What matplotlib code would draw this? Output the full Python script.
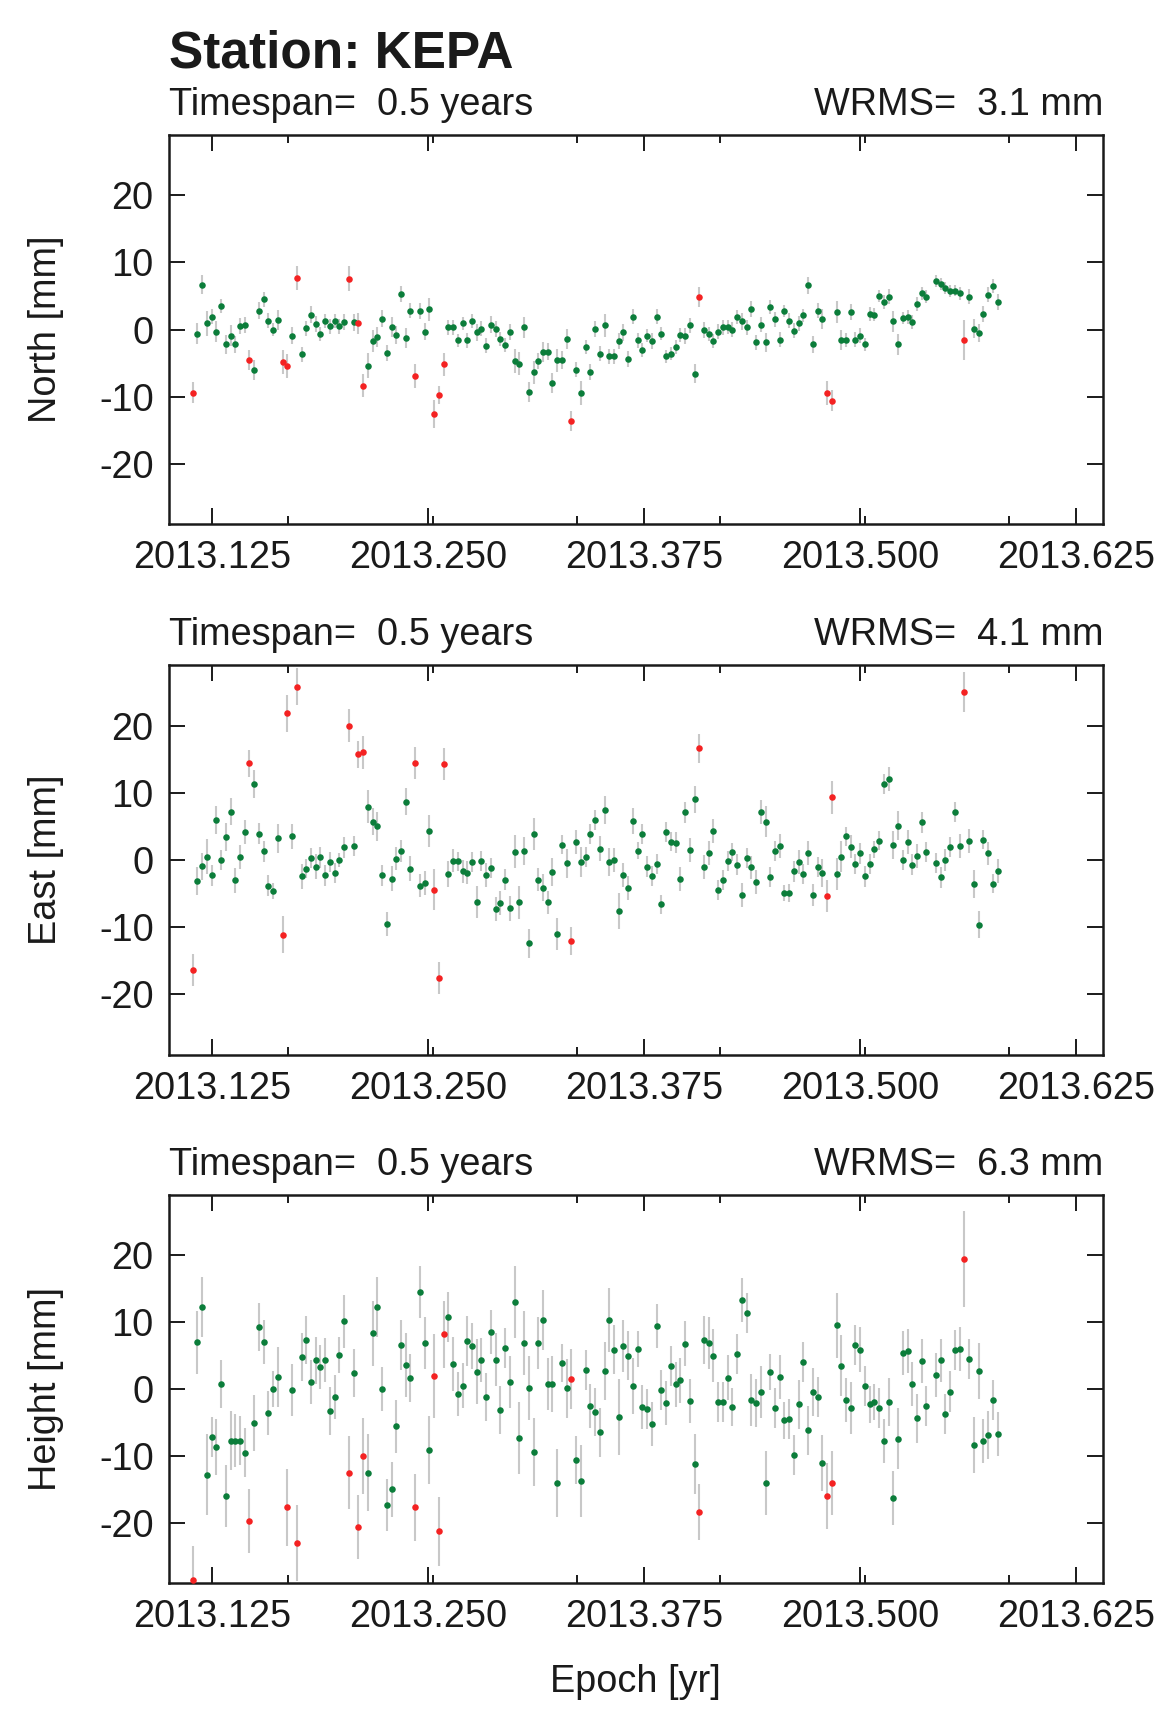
import numpy as np
import matplotlib
matplotlib.use('Agg')
import matplotlib.pyplot as plt
from matplotlib.ticker import FixedLocator, NullFormatter

plt.rcParams['font.family'] = ['Liberation Sans', 'DejaVu Sans']
plt.rcParams['axes.unicode_minus'] = False

# ---------------- data ----------------
station = 'KEPA'
year = 2013
day_of_year = [
    42, 43, 44, 45, 46, 47, 48, 49, 50, 51,
    52, 53, 54, 55, 56, 57, 58, 59, 60, 61,
    62, 63, 64, 65, 66, 67, 68, 69, 70, 71,
    72, 73, 74, 75, 76, 77, 78, 79, 80, 81,
    82, 83, 84, 85, 86, 87, 88, 89, 90, 91,
    92, 93, 94, 95, 96, 97, 98, 99, 100, 101,
    102, 103, 104, 105, 106, 107, 108, 109, 110, 111,
    112, 113, 114, 115, 116, 117, 118, 119, 120, 121,
    122, 123, 124, 125, 126, 127, 128, 129, 130, 131,
    132, 133, 134, 135, 136, 137, 138, 139, 140, 141,
    142, 143, 144, 145, 146, 147, 148, 149, 150, 151,
    152, 153, 154, 155, 156, 157, 158, 159, 160, 161,
    162, 163, 164, 165, 166, 167, 168, 169, 170, 171,
    172, 173, 174, 175, 176, 177, 178, 179, 180, 181,
    182, 183, 184, 185, 186, 187, 188, 189, 190, 191,
    192, 193, 194, 195, 196, 197, 199, 200, 201,
    202, 203, 204, 205, 206, 207, 208, 209, 210, 211,
    212,
]

outlier_days = [42, 54, 61, 62, 64, 75, 77, 78, 89, 93, 94, 95, 122, 149, 176, 177, 205]

north = [
    -9.4, -0.6, 6.7, 0.9, 1.9, -0.3, 3.5, -2.2, -0.9, -2.2,
    0.5, 0.7, -4.6, -6.0, 2.8, 4.5, 1.3, 0.0, 1.4, -4.9,
    -5.4, -0.9, 7.7, -3.7, 0.2, 2.2, 0.8, -0.7, 1.3, 0.5,
    1.3, 0.5, 1.1, 7.6, 1.1, 0.9, -8.4, -5.4, -1.7, -1.1,
    1.6, -3.5, 0.4, -0.8, 5.3, -1.3, 2.8, -6.9, 2.8, -0.3,
    3.0, -12.6, -9.7, -5.2, 0.3, 0.3, -1.6, 0.9, -1.6, 1.3,
    -0.4, 0.1, -2.4, 0.7, 0.1, -1.4, -2.3, -0.4, -4.7, -5.1,
    0.3, -9.3, -6.4, -4.7, -3.3, -3.3, -8.0, -4.6, -4.6, -1.4,
    -13.7, -6.0, -9.5, -2.6, -6.4, 0.1, -3.6, 0.6, -4.0, -4.0,
    -1.7, -0.4, -4.4, 1.9, -1.6, -3.0, -0.9, -1.7, 1.9, -0.6,
    -4.0, -3.6, -2.6, -0.8, -1.0, 0.6, -6.6, 4.8, -0.1, -0.7,
    -1.7, -0.3, 0.3, 0.4, 0.0, 1.8, 1.2, 0.3, 3.0, -1.9,
    0.7, -1.9, 3.3, 1.5, -1.5, 2.7, 1.3, -0.2, 0.9, 2.1,
    6.6, -2.2, 2.8, 1.6, -9.5, -10.6, 2.6, -1.6, -1.6, 2.6,
    -1.5, -0.9, -2.2, 2.3, 2.2, 5.0, 4.1, 4.9, 1.2, -2.2,
    1.7, 1.8, 1.1, 3.8, 5.4, 4.9, 7.2, 6.8, 6.2,
    5.8, 5.8, 5.4, -1.6, 4.9, 0.1, -0.5, 2.3, 5.2, 6.5,
    4.1,
]
north_sigma = [
    1.5, 1.5, 1.45, 1.8, 1.1, 1.5, 1.1, 1.45, 1.5, 1.25,
    1.15, 1.2, 1.5, 1.5, 1.25, 1.15, 1.1, 1.0, 1.45, 1.8,
    1.8, 1.2, 1.8, 1.15, 1.1, 1.25, 1.15, 1.0, 1.05, 1.1,
    1.05, 1.1, 1.2, 1.8, 1.25, 1.5, 1.7, 1.85, 1.6, 1.45,
    1.25, 1.15, 1.45, 1.3, 1.2, 1.45, 1.15, 1.8, 1.2, 1.2,
    1.75, 2.1, 1.35, 1.7, 1.05, 1.05, 1.0, 1.0, 1.15, 1.05,
    1.25, 1.1, 1.15, 1.25, 1.2, 1.1, 1.0, 1.15, 1.75, 1.7,
    1.5, 1.45, 1.75, 1.15, 1.5, 1.3, 1.45, 1.7, 1.35, 1.5,
    1.5, 1.15, 1.75, 1.05, 1.2, 1.2, 1.15, 1.65, 1.1, 1.15,
    1.25, 1.25, 1.2, 1.15, 1.15, 1.05, 1.0, 1.15, 1.15, 1.0,
    1.0, 1.0, 1.05, 1.05, 1.15, 1.05, 1.45, 1.5, 1.2, 1.05,
    1.05, 1.05, 1.05, 1.05, 1.05, 1.05, 1.2, 1.1, 1.2, 1.15,
    1.1, 1.45, 1.05, 1.1, 1.15, 0.9, 1.1, 1.1, 1.05, 1.0,
    1.25, 1.25, 1.1, 1.5, 1.8, 1.55, 1.6, 1.5, 1.05, 1.2,
    1.1, 1.05, 1.0, 1.1, 1.0, 0.95, 1.0, 1.1, 1.5, 1.55,
    0.95, 1.05, 1.0, 1.1, 1.0, 1.0, 0.9, 0.85, 0.9,
    0.9, 0.8, 0.95, 3.0, 1.1, 1.4, 1.35, 1.15, 1.1, 1.0,
    1.2,
]

east = [
    -16.4, -3.1, -0.9, 0.5, -2.3, 5.9, 0.0, 3.4, 7.2, -3.0,
    0.5, 4.2, 14.4, 11.3, 3.9, 1.3, -3.8, -4.6, 3.2, -11.1,
    21.8, 3.5, 25.8, -2.4, -1.3, 0.3, -1.0, 0.4, -2.3, -0.3,
    -1.9, 0.0, 1.9, 20.0, 2.1, 15.7, 16.0, 7.9, 5.7, 5.0,
    -2.3, -9.5, -2.8, 0.2, 1.3, 8.7, -1.3, 14.4, -3.8, -3.4,
    4.3, -4.4, -17.6, 14.3, -2.1, -0.1, -0.2, -1.7, -1.9, -0.3,
    -6.2, -0.2, -2.2, -1.2, -7.3, -6.4, -2.9, -7.2, 1.2, -6.3,
    1.3, -12.4, 3.9, -2.9, -4.1, -6.3, -1.8, -11.0, 2.3, -0.5,
    -12.0, 2.7, -0.3, 0.4, 3.9, 6.0, 1.7, 7.4, -0.3, 0.0,
    -7.6, -2.2, -4.2, 5.8, 1.4, 3.9, -1.0, -2.4, -0.6, -6.6,
    4.2, 2.7, 2.6, -2.8, 7.1, 1.5, 9.0, 16.6, -1.0, 1.1,
    4.3, -4.5, -3.0, -0.2, 1.2, -0.7, -5.2, 0.3, -1.1, -3.3,
    7.1, 5.7, -2.5, 1.3, 2.1, -4.9, -4.9, -1.7, -0.3, -2.1,
    1.0, -5.2, -1.1, -1.9, -5.3, 9.3, -2.1, 0.5, 3.5, 2.0,
    -0.6, 1.0, -2.4, -0.6, 1.6, 2.9, 11.3, 12.1, 2.2, 5.1,
    0.0, 2.7, -0.7, 0.6, 5.6, 1.2, -0.5, -2.6, 0.0,
    1.9, 7.1, 2.1, 25.0, 2.8, -3.6, -9.6, 3.0, 1.0, -3.5,
    -1.6,
]
east_sigma = [
    2.35, 2.1, 2.0, 2.6, 1.5, 2.1, 1.45, 2.1, 2.05, 1.85,
    1.8, 1.8, 2.0, 2.05, 1.55, 1.55, 1.55, 1.15, 2.1, 2.75,
    2.7, 1.8, 2.7, 1.85, 1.45, 1.45, 1.85, 1.6, 1.55, 1.5,
    1.5, 1.1, 1.55, 2.4, 1.45, 2.05, 2.4, 2.45, 2.05, 2.15,
    1.5, 1.75, 1.85, 1.7, 1.65, 2.0, 1.85, 2.4, 1.7, 1.75,
    2.4, 3.0, 2.4, 2.4, 1.9, 1.75, 1.45, 1.7, 1.7, 1.5,
    2.4, 1.5, 1.8, 1.45, 1.8, 1.75, 1.55, 1.8, 2.45, 2.45,
    2.05, 2.1, 2.4, 1.75, 2.05, 1.75, 2.1, 2.4, 1.4, 2.15,
    2.1, 1.75, 2.3, 1.5, 1.5, 1.5, 1.8, 2.05, 2.05, 1.85,
    2.7, 1.8, 1.8, 2.0, 1.25, 1.5, 1.55, 1.5, 1.55, 1.45,
    1.5, 1.4, 1.5, 1.8, 1.55, 1.8, 2.05, 2.1, 1.8, 1.8,
    1.75, 1.5, 1.45, 1.5, 1.4, 1.6, 1.8, 1.55, 1.75, 1.8,
    1.8, 2.35, 1.45, 1.5, 1.8, 1.2, 1.35, 1.55, 1.85, 1.45,
    1.8, 1.7, 1.5, 2.05, 2.4, 2.4, 2.4, 2.35, 1.4, 1.7,
    1.5, 1.6, 1.55, 1.45, 1.3, 1.4, 1.5, 1.8, 2.1, 2.15,
    1.5, 1.75, 1.55, 1.8, 1.55, 1.5, 1.5, 1.6, 1.6,
    1.45, 1.5, 1.8, 3.0, 1.8, 2.1, 2.05, 1.4, 1.75, 1.45,
    1.8,
]

height = [
    -28.5, 7.0, 12.2, -12.8, -7.2, -8.7, 0.7, -16.0, -7.7, -7.7,
    -7.7, -9.5, -19.7, -5.1, 9.3, 7.0, -3.6, 0.0, 1.8, np.nan,
    -17.7, -0.2, -23.0, 4.8, 7.3, 1.1, 4.3, 3.3, 4.3, -3.3,
    -1.2, 5.1, 10.1, -12.5, 2.4, -20.6, -10.0, -12.5, 8.3, 12.2,
    0.0, -17.3, -15.0, -5.6, 6.6, 3.6, 1.6, -17.7, 14.5, 6.9,
    -9.1, 1.9, -21.3, 8.2, 10.8, 3.7, -0.8, 0.5, 7.2, 6.4,
    2.6, 4.3, -1.2, 8.5, 4.4, -3.1, 6.1, 1.0, 13.0, -7.3,
    6.9, 0.1, -9.4, 6.9, 10.3, 0.7, 0.7, -14.1, 3.9, 0.1,
    1.5, -10.6, -13.7, 2.8, -2.5, -3.5, -6.5, 2.7, 10.3, 5.9,
    -4.2, 6.4, 5.0, 0.5, 6.0, -2.7, -3.0, -5.2, 9.4, -0.2,
    -2.1, 3.4, 0.7, 1.3, 6.8, -1.8, -11.2, -18.4, 7.3, 6.9,
    5.0, -1.9, -1.9, 1.7, -2.7, 5.2, 13.3, 11.3, -1.6, -2.1,
    -0.4, -14.1, 2.6, -2.8, 1.8, -4.7, -4.5, -9.9, -2.3, 4.0,
    -6.2, -0.4, -1.2, -11.1, -16.0, -14.0, 9.5, 3.5, -1.7, -2.9,
    6.6, 5.9, 0.4, -2.3, -2.0, -2.8, -7.8, -2.0, -16.3, -7.4,
    5.4, 5.7, 0.7, -4.4, 4.2, -2.5, 2.1, 4.3, -3.8,
    -0.4, 5.8, 6.0, 19.4, 4.5, -8.4, 2.7, -7.8, -6.9, -1.6,
    -6.7,
]
height_sigma = [
    5.0, 4.7, 4.5, 6.0, 3.0, 4.2, 3.6, 4.7, 4.4, 3.9,
    3.6, 3.6, 4.8, 4.2, 3.6, 3.3, 3.3, 2.7, 4.5, np.nan,
    5.7, 3.9, 5.7, 3.6, 3.6, 3.3, 3.5, 3.3, 3.3, 3.6,
    3.3, 2.7, 3.9, 5.4, 3.6, 4.8, 5.7, 5.7, 4.8, 4.5,
    3.3, 3.9, 4.1, 3.9, 3.7, 4.8, 3.6, 5.0, 3.9, 3.9,
    5.1, 6.3, 5.1, 5.0, 3.7, 4.0, 3.3, 3.4, 3.7, 3.4,
    4.8, 3.3, 3.6, 3.3, 3.9, 3.6, 3.0, 3.9, 5.4, 5.4,
    4.8, 4.8, 5.1, 3.9, 4.5, 3.9, 4.2, 5.1, 2.9, 4.4,
    4.5, 3.6, 5.4, 3.0, 3.3, 3.6, 3.6, 4.4, 4.8, 3.6,
    5.7, 3.9, 3.6, 4.2, 2.7, 3.3, 3.0, 3.3, 3.3, 3.0,
    3.3, 3.0, 3.4, 3.4, 3.3, 3.3, 4.5, 4.2, 3.6, 3.9,
    3.9, 3.0, 3.0, 3.4, 2.8, 3.0, 3.3, 3.0, 3.9, 3.6,
    3.9, 4.8, 2.7, 3.0, 3.3, 2.7, 3.0, 3.0, 3.7, 3.0,
    3.6, 3.6, 3.0, 4.2, 5.0, 4.8, 4.8, 4.5, 3.3, 3.9,
    3.0, 3.3, 3.0, 2.8, 2.7, 3.0, 3.3, 3.6, 4.1, 4.5,
    3.3, 3.3, 3.3, 3.6, 3.3, 3.0, 3.3, 3.2, 3.0,
    3.1, 3.0, 3.3, 7.2, 3.0, 4.2, 4.2, 3.3, 3.6, 3.0,
    3.3,
]

timespan_years = 0.5
wrms_mm = [3.1, 4.1, 6.3]
component_labels = ['North [mm]', 'East [mm]', 'Height [mm]']
xtick_values = [2013.125, 2013.250, 2013.375, 2013.500, 2013.625]
month_tick_values = [2013.169, 2013.2525, 2013.336, 2013.419, 2013.5025, 2013.586]
ytick_values = [-20, -10, 0, 10, 20]

# ---------------- figure ----------------
W, H = 1165, 1709
fig = plt.figure(figsize=(W / 100, H / 100), dpi=100)

green = '#0b7d3a'
red = '#f42222'
bar_grey = '#c8c8c8'
ink = '#1a1a1a'

epoch = year + (np.array(day_of_year, dtype=float) - 0.5) / 365.0
is_out = np.isin(np.array(day_of_year), outlier_days)

series = [(north, north_sigma), (east, east_sigma), (height, height_sigma)]
panel_px = [(135, 524), (665, 1055), (1195, 1583)]
left_px, right_px = 169, 1103

for i, ((vals, sig), (top, bot)) in enumerate(zip(series, panel_px)):
    ax = fig.add_axes([left_px / W, 1 - bot / H, (right_px - left_px) / W, (bot - top) / H])
    v = np.array(vals, dtype=float)
    s = np.array(sig, dtype=float)
    ax.errorbar(epoch, v, yerr=s, fmt='none', ecolor=bar_grey, elinewidth=1.5,
                capsize=0, zorder=2)
    ax.plot(epoch[~is_out], v[~is_out], 'o', color=green, ms=4.7, mec='none', zorder=3)
    ax.plot(epoch[is_out], v[is_out], 'o', color=red, ms=4.7, mec='none', zorder=4)

    ax.set_xlim(2013.1, 2013.6405)
    ax.set_ylim(-29, 29)
    ax.xaxis.set_major_locator(FixedLocator(xtick_values))
    ax.set_xticklabels(['%.3f' % t for t in xtick_values])
    ax.xaxis.set_minor_locator(FixedLocator(month_tick_values))
    ax.xaxis.set_minor_formatter(NullFormatter())
    ax.yaxis.set_major_locator(FixedLocator(ytick_values))
    ax.set_yticklabels(['%d' % t for t in ytick_values])

    ax.tick_params(axis='both', which='major', direction='in', length=11.5, width=1.4,
                   labelsize=27.3, top=True, right=True, colors=ink)
    ax.tick_params(axis='both', which='minor', direction='in', length=5.8, width=1.4,
                   top=True, right=True, colors=ink)
    ax.tick_params(axis='x', which='major', pad=11.5)
    ax.tick_params(axis='y', which='major', pad=11)
    for sp in ax.spines.values():
        sp.set_linewidth(1.8)
        sp.set_color(ink)

    ax.text(0.0, 1 + 20 / (bot - top), 'Timespan=  %.1f years' % timespan_years,
            transform=ax.transAxes, ha='left', va='baseline', fontsize=27.3, color=ink)
    ax.text(1.0, 1 + 20 / (bot - top), 'WRMS=  %.1f mm' % wrms_mm[i],
            transform=ax.transAxes, ha='right', va='baseline', fontsize=27.3, color=ink)

    fig.text(46 / W, 1 - (top + bot) / 2 / H, component_labels[i], rotation=90,
             ha='center', va='center', fontsize=27.3, color=ink)

fig.text(left_px / W, 1 - 67 / H, 'Station: %s' % station, ha='left', va='baseline',
         fontsize=37, fontweight='bold', color=ink)
fig.text(635 / W, 1 - 1682 / H, 'Epoch [yr]', ha='center', va='center',
         fontsize=27.3, color=ink)

fig.savefig('out.png', dpi=100)
